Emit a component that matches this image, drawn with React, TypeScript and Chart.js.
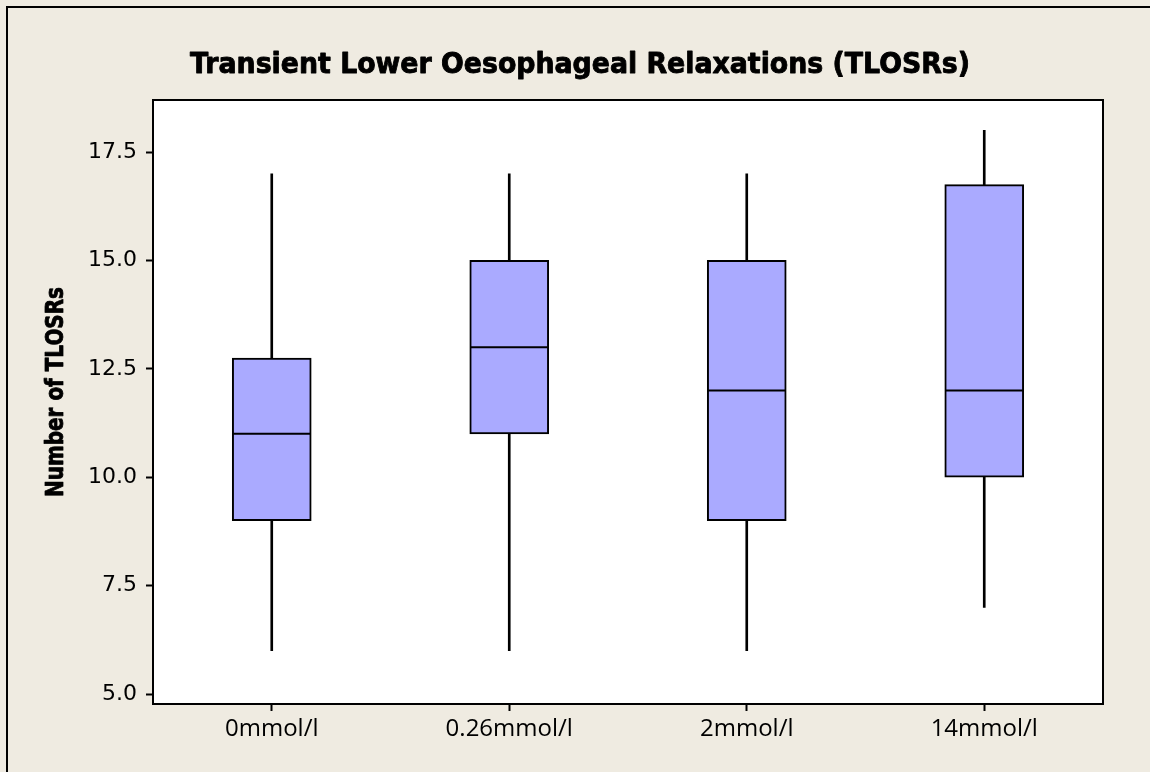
import React, { useEffect, useRef } from "react";
import { Chart, registerables } from "chart.js";

Chart.register(...registerables);

const categories = ["0mmol/l", "0.26mmol/l", "2mmol/l", "14mmol/l"];
const whiskerLow = [6, 6, 6, 7];
const whiskerHigh = [17, 17, 17, 18];
const q1 = [9, 11, 9, 10];
const q3 = [12.75, 15, 15, 16.75];
const medians = [11, 13, 12, 12];
const yTicks = [5, 7.5, 10, 12.5, 15, 17.5];

const chartTitle = "Transient Lower Oesophageal Relaxations (TLOSRs)";
const yTitle = "Number of TLOSRs";

const BG = "rgb(239,235,225)";
const BOX = "rgb(170,170,255)";

const decorPlugin = {
  id: "decor",
  beforeDraw(chart: any) {
    const { ctx, chartArea, width, height } = chart;
    ctx.save();
    ctx.fillStyle = BG;
    ctx.fillRect(0, 0, width, height);
    ctx.strokeStyle = "#000";
    ctx.lineWidth = 2;
    ctx.beginPath();
    ctx.moveTo(7, height + 10);
    ctx.lineTo(7, 7);
    ctx.lineTo(width + 10, 7);
    ctx.stroke();
    ctx.fillStyle = "#fff";
    ctx.fillRect(chartArea.left, chartArea.top, chartArea.right - chartArea.left, chartArea.bottom - chartArea.top);
    ctx.restore();
  },
  afterDraw(chart: any) {
    const { ctx, chartArea } = chart;
    ctx.save();
    ctx.strokeStyle = "#000";
    ctx.lineWidth = 2;
    ctx.strokeRect(chartArea.left, chartArea.top, chartArea.right - chartArea.left, chartArea.bottom - chartArea.top);
    // title
    ctx.fillStyle = "#000";
    ctx.font = "bold 29px 'DejaVu Sans'";
    ctx.textAlign = "center";
    ctx.textBaseline = "alphabetic";
    ctx.lineWidth = 0.9;
    ctx.lineJoin = "round";
    ctx.fillText(chartTitle, 580, 73, 780);
    ctx.strokeText(chartTitle, 580, 73, 780);
    // y axis title
    ctx.translate(63, 392);
    ctx.rotate(-Math.PI / 2);
    ctx.font = "bold 24px 'DejaVu Sans'";
    ctx.lineWidth = 0.8;
    ctx.fillText(yTitle, 0, 0, 210);
    ctx.strokeText(yTitle, 0, 0, 210);
    ctx.restore();
  },
};

export default function App() {
  const ref = useRef<HTMLCanvasElement | null>(null);
  useEffect(() => {
    document.body.style.margin = "0";
    const canvas = ref.current!;
    const chart = new Chart(canvas, {
      type: "bar",
      data: {
        labels: categories,
        datasets: [
          {
            type: "line",
            label: "median",
            data: medians,
            showLine: false,
            pointStyle: "line",
            pointRadius: 39,
            pointHoverRadius: 39,
            pointBorderWidth: 2,
            borderColor: "#000",
            backgroundColor: "#000",
            order: 0,
          } as any,
          {
            type: "bar",
            label: "box",
            data: q1.map((v, i) => [v, q3[i]]),
            backgroundColor: BOX,
            borderColor: "#000",
            borderWidth: 2,
            borderSkipped: false,
            barThickness: 79,
            grouped: false,
            order: 1,
          } as any,
          {
            type: "bar",
            label: "whisker",
            data: whiskerLow.map((v, i) => [v, whiskerHigh[i]]),
            backgroundColor: "#000",
            borderWidth: 0,
            barThickness: 2,
            grouped: false,
            order: 2,
          } as any,
        ],
      },
      options: {
        responsive: false,
        animation: false,
        devicePixelRatio: 1,
        layout: { padding: { top: 100, left: 0, right: 47, bottom: 0 } },
        plugins: {
          legend: { display: false },
          tooltip: { enabled: false },
          title: { display: false },
        },
        scales: {
          x: {
            type: "category",
            offset: true,
            grid: {
              offset: false,
              display: true,
              drawOnChartArea: false,
              drawTicks: true,
              tickLength: 7,
              tickWidth: 2,
              tickColor: "#000",
            },
            border: { display: true, color: "#000", width: 2 },
            ticks: {
              color: "#000",
              padding: 4,
              maxRotation: 0,
              font: { family: "'Open Sans'", size: 24 },
            },
            afterFit(scale: any) {
              scale.height = 68;
            },
          },
          y: {
            type: "linear",
            min: 4.77,
            max: 18.7,
            afterBuildTicks(scale: any) {
              scale.ticks = yTicks.map((v) => ({ value: v }));
            },
            grid: {
              display: true,
              drawOnChartArea: false,
              drawTicks: true,
              tickLength: 7,
              tickWidth: 2,
              tickColor: "#000",
            },
            border: { display: true, color: "#000", width: 2 },
            ticks: {
              color: "#000",
              padding: 9,
              font: { family: "'DejaVu Sans'", size: 22 },
              callback: (v: any) => Number(v).toFixed(1),
            },
            afterFit(scale: any) {
              scale.width = 153;
            },
          },
        },
      } as any,
      plugins: [decorPlugin],
    });
    return () => chart.destroy();
  }, []);
  return (
    <canvas
      ref={ref}
      width={1150}
      height={772}
      style={{ display: "block", width: 1150, height: 772 }}
    />
  );
}
